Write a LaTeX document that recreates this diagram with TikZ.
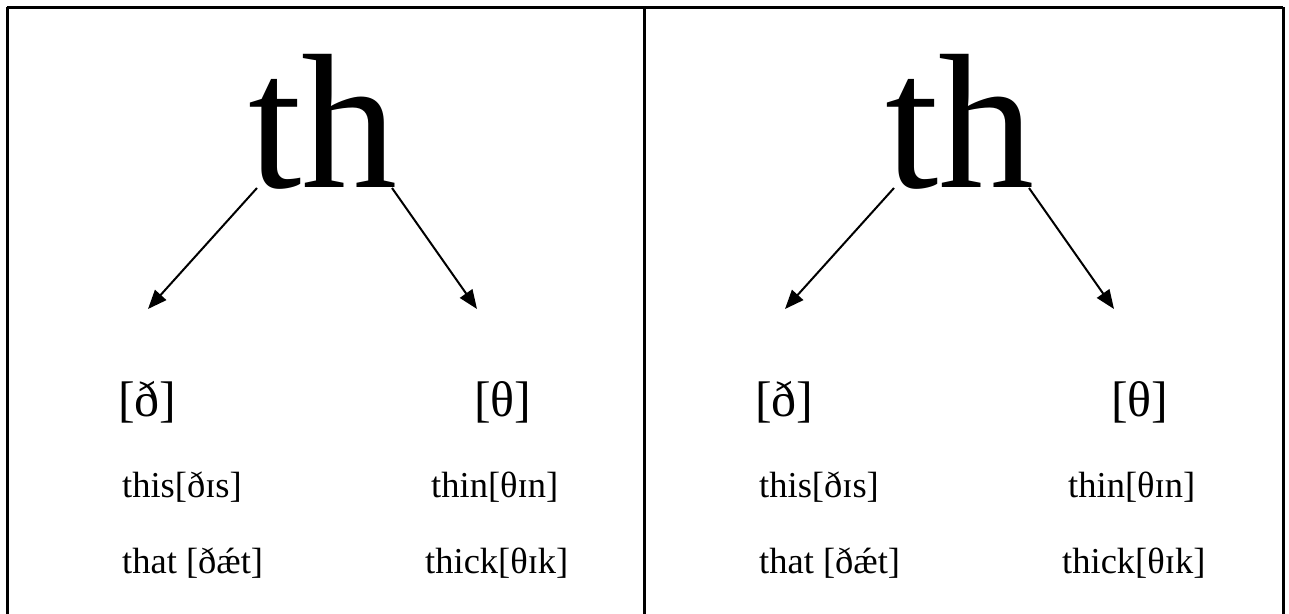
\documentclass[tikz,border=0pt]{standalone}
\usepackage{fontspec}
\setmainfont{Liberation Serif}
\usetikzlibrary{arrows.meta}
\tikzset{
  frame/.style={line width=3pt},
  big/.style={inner sep=0pt, anchor=base west, font=\fontsize{192}{192}\selectfont},
  ipa/.style={inner sep=0pt, anchor=base west, font=\fontsize{50}{50}\selectfont},
  word/.style={inner sep=0pt, anchor=base west, font=\fontsize{36.5}{36.5}\selectfont},
  arr/.style={line width=2pt, -{Triangle[length=19pt,width=15pt]}}
}
\begin{document}
\begin{tikzpicture}[x=1pt,y=-1pt]
\useasboundingbox (0,0) rectangle (1289,613);
\fill[white] (0,0) rectangle (1289,613);
\draw[frame] (7,7) -- (7,625);
\draw[frame] (7,7) -- (1283,7);
\draw[frame] (644,7) -- (644,625);
\draw[frame] (1283,7) -- (1283,625);
\foreach \o/\p in {0/L,637/R}{
  \begin{scope}[xshift=\o pt]
    \node[big] (th\p) at (248,187) {th};
    \node[ipa] (dh\p) at (118,416) {[ð]};
    \node[ipa] (theta\p) at (474,416) {[θ]};
    \node[word] (this\p) at (122,497) {this[ðɪs]};
    \node[word] (that\p) at (122,573) {that [ðǽt]};
    \node[word] (thin\p) at (431,497) {thin[θɪn]};
    \node[word] (thick\p) at (425,573) {thick[θɪk]};
    \coordinate (a\p) at (257,188);
    \coordinate (b\p) at (148,309);
    \coordinate (c\p) at (392,188);
    \coordinate (d\p) at (477,309);
    \draw[arr] (a\p) -- (b\p);
    \draw[arr] (c\p) -- (d\p);
  \end{scope}
}
\end{tikzpicture}
\end{document}
